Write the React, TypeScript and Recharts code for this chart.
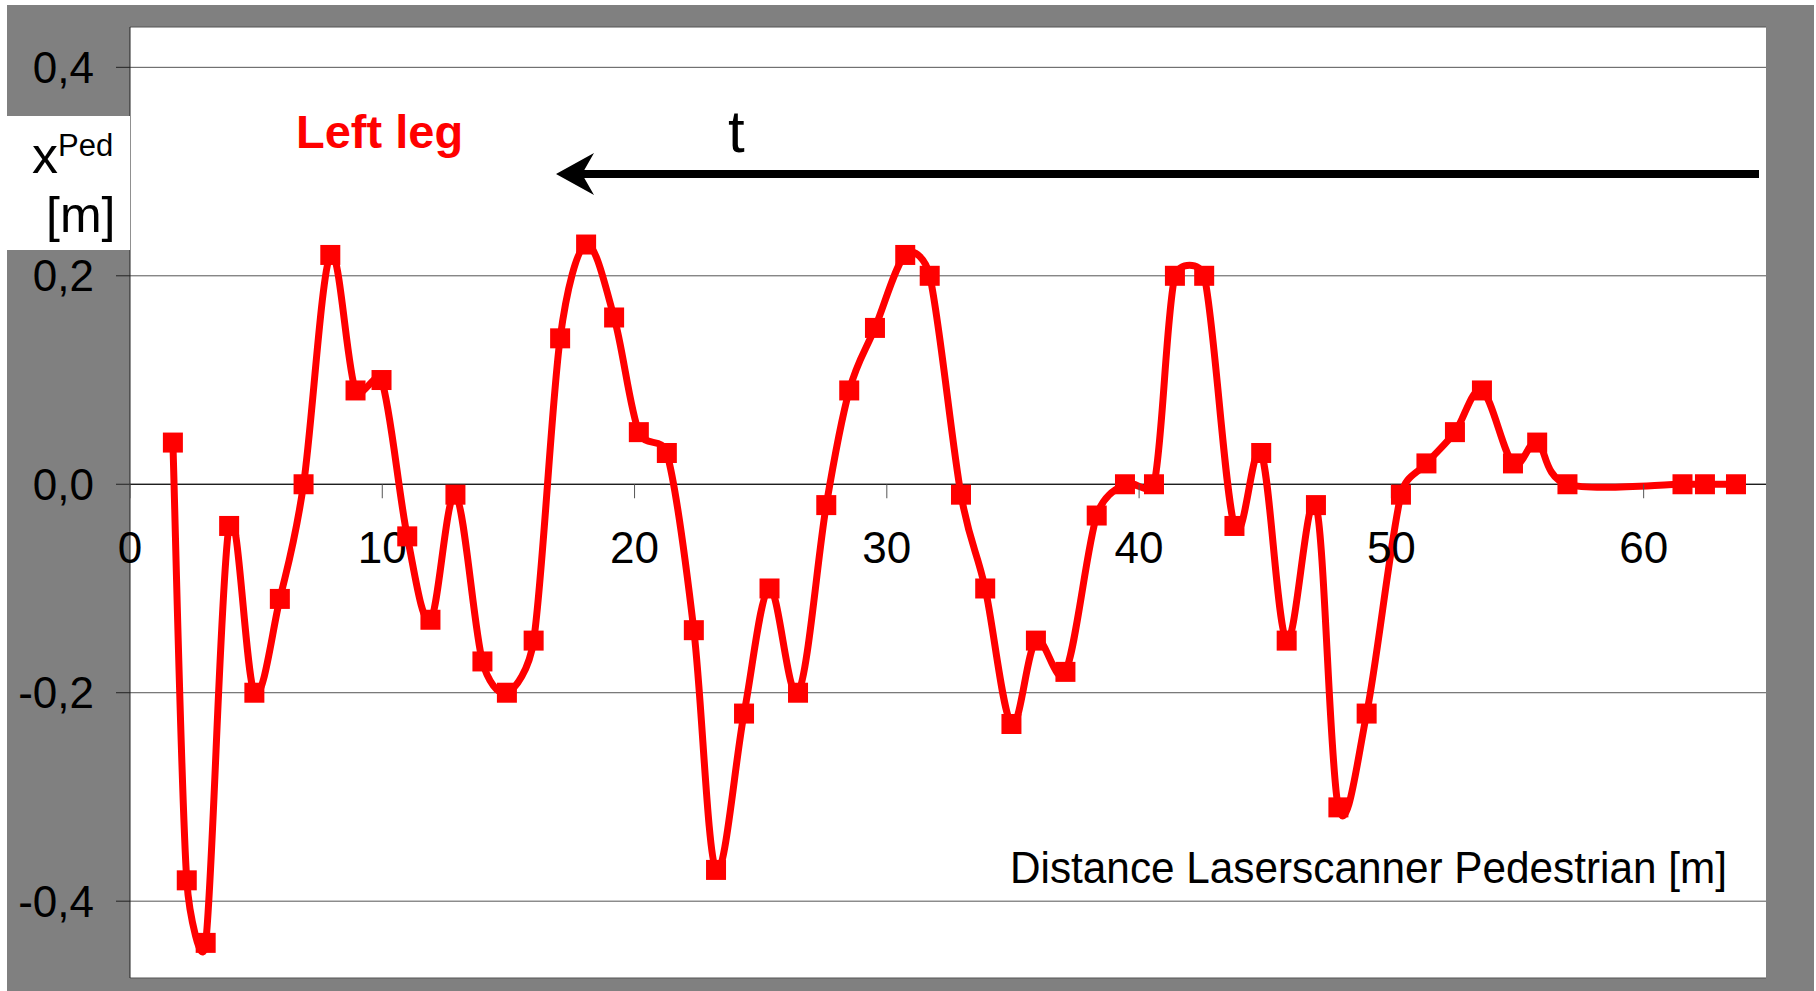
import { LineChart, Line, XAxis, YAxis, CartesianGrid, ReferenceLine, ReferenceDot } from "recharts";

// distance laserscanner -> pedestrian [m]
const distance = [
  1.7, 2.25, 3.0, 3.93, 4.93, 5.94, 6.88, 7.94, 8.94, 9.97, 10.99, 11.91, 12.9, 13.97, 14.94, 16.0,
  17.05, 18.08, 19.19, 20.17, 21.28, 22.35, 23.23, 24.34, 25.35, 26.48, 27.6, 28.51, 29.53, 30.73,
  31.7, 32.94, 33.9, 34.94, 35.91, 37.08, 38.32, 39.44, 40.59, 41.42, 42.58, 43.78, 44.84, 45.85,
  47.01, 47.9, 49.02, 50.38, 51.39, 52.52, 53.59, 54.82, 55.78, 56.98, 61.54, 62.43, 63.66,
];

// x^Ped of the left leg [m]
const leftLeg = [
  0.04, -0.38, -0.44, -0.04, -0.2, -0.11, 0, 0.22, 0.09, 0.1, -0.05, -0.13, -0.01, -0.17, -0.2, -0.15,
  0.14, 0.23, 0.16, 0.05, 0.03, -0.14, -0.37, -0.22, -0.1, -0.2, -0.02, 0.09, 0.15, 0.22,
  0.2, -0.01, -0.1, -0.23, -0.15, -0.18, -0.03, 0, 0, 0.2, 0.2, -0.04, 0.03, -0.15,
  -0.02, -0.31, -0.22, -0.01, 0.02, 0.05, 0.09, 0.02, 0.04, 0, 0, 0, 0,
];

const xTicks = [0, 10, 20, 30, 40, 50, 60];
const yTicks = [-0.4, -0.2, 0, 0.2, 0.4];

const data = distance.map((d, i) => ({ d, x: leftLeg[i] }));

const FONT = "'Liberation Sans', Arial, sans-serif";

const dist = (p: number[], q: number[]) => Math.hypot(q[0] - p[0], q[1] - p[1]);

// Excel-like smoothed line: Bezier arms of 1/6 of the neighbour chord,
// capped at half the segment length so peaks don't overshoot much
function excelSmooth(context: any) {
  let pts: number[][] = [];
  return {
    areaStart() {},
    areaEnd() {},
    lineStart() {
      pts = [];
    },
    point(x: number, y: number) {
      pts.push([+x, +y]);
    },
    lineEnd() {
      if (!pts.length) return;
      context.moveTo(pts[0][0], pts[0][1]);
      for (let i = 0; i < pts.length - 1; i++) {
        const a = pts[i - 1] || pts[i];
        const b = pts[i];
        const c = pts[i + 1];
        const d = pts[i + 2] || c;
        const seg = dist(b, c);
        const dac = dist(a, c);
        const dbd = dist(b, d);
        let f0 = 1 / 6;
        let f1 = 1 / 6;
        if (dac / 6 > seg / 2) f0 = seg / dac / 2;
        if (dbd / 6 > seg / 2) f1 = seg / dbd / 2;
        context.bezierCurveTo(
          b[0] + (c[0] - a[0]) * f0,
          b[1] + (c[1] - a[1]) * f0,
          c[0] - (d[0] - b[0]) * f1,
          c[1] - (d[1] - b[1]) * f1,
          c[0],
          c[1]
        );
      }
    },
  };
}

const squareDot = (p: any) => (
  <rect key={`sq-${p.index}`} x={p.cx - 10} y={p.cy - 10} width={20} height={20} fill="#ff0000" />
);

// x axis sits on the zero line, so its ticks are drawn at (t, 0)
const zeroAxisTick = (label: string) => (p: any) => (
  <g>
    <line x1={p.cx} y1={p.cy} x2={p.cx} y2={p.cy + 14} stroke="#555" strokeWidth={1} />
    <text x={p.cx} y={p.cy + 79} textAnchor="middle" fontSize={44} fill="#000" fontFamily={FONT}>
      {label}
    </text>
  </g>
);

const fmt = (v: number) => v.toFixed(1).replace(".", ",");

export default function App() {
  return (
    <div style={{ position: "absolute", left: 0, top: 0, width: 1816, height: 991, background: "#fff", fontFamily: FONT }}>
      <div style={{ position: "absolute", left: 7, top: 5, width: 1807, height: 986, background: "#808080" }} />
      <div style={{ position: "absolute", left: 0, top: 0 }}>
        <LineChart width={1816} height={991} data={data} margin={{ top: 27, right: 50, bottom: 13, left: 0 }}>
          <CartesianGrid horizontal vertical={false} stroke="#555" fill="#ffffff" />
          <XAxis dataKey="d" type="number" domain={[0, 64.85]} allowDataOverflow hide />
          <YAxis
            type="number"
            domain={[-0.4737, 0.4387]}
            allowDataOverflow
            ticks={yTicks}
            interval={0}
            tickFormatter={fmt}
            width={130}
            tickSize={14}
            tickMargin={22}
            tick={{ fill: "#000", fontSize: 44, fontFamily: FONT }}
            axisLine={{ stroke: "#222" }}
            tickLine={{ stroke: "#222" }}
          />
          <ReferenceLine y={0} stroke="#000" strokeWidth={1} />
          {xTicks.map((t) => (
            <ReferenceDot key={t} x={t} y={0} r={0} ifOverflow="visible" shape={zeroAxisTick(String(t))} />
          ))}
          <Line
            dataKey="x"
            type={excelSmooth as any}
            stroke="#ff0000"
            strokeWidth={7}
            dot={squareDot}
            activeDot={false}
            isAnimationActive={false}
          />
        </LineChart>
      </div>
      <svg width={1816} height={991} style={{ position: "absolute", left: 0, top: 0, pointerEvents: "none" }}>
        <rect x={7} y={116} width={123} height={134} fill="#ffffff" />
        <text x={32} y={173} fontSize={52} fontFamily={FONT} fill="#000">x</text>
        <text x={58} y={156} fontSize={31} fontFamily={FONT} fill="#000">Ped</text>
        <text x={46} y={232} fontSize={50} fontFamily={FONT} fill="#000">[m]</text>
        <text x={296} y={148} fontSize={47} fontWeight="bold" fontFamily={FONT} fill="#ff0000">Left leg</text>
        <text x={728} y={152} fontSize={60} fontFamily={FONT} fill="#000">t</text>
        <line x1={578} y1={174} x2={1759} y2={174} stroke="#000" strokeWidth={8} />
        <polygon points="556,174 594,153 582,174 594,195" fill="#000" />
        <text
          x={1010}
          y={883}
          fontSize={45}
          fontFamily={FONT}
          fill="#000"
          textLength={717}
          lengthAdjust="spacingAndGlyphs"
        >
          Distance Laserscanner Pedestrian [m]
        </text>
      </svg>
    </div>
  );
}
